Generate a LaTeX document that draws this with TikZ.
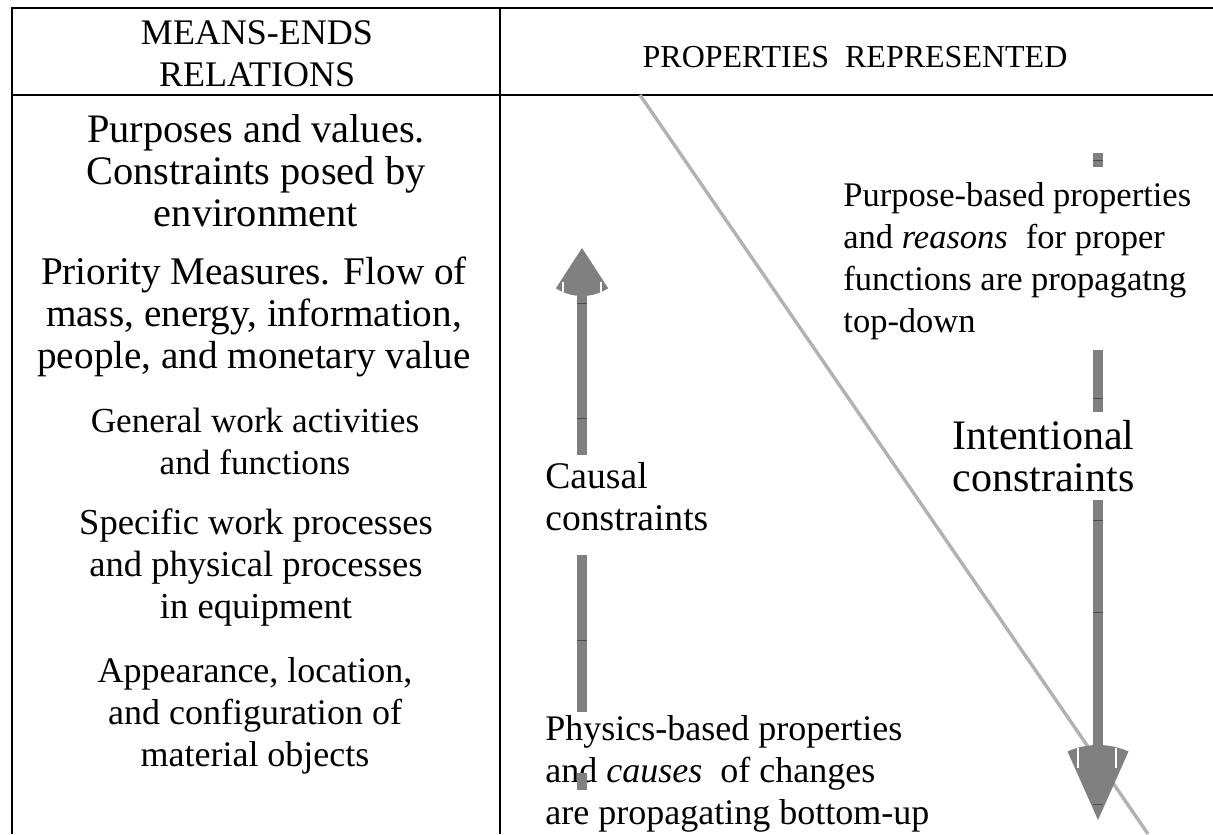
\documentclass[tikz,border=0pt]{standalone}
\usepackage{fontspec}
\setmainfont{Liberation Serif}
\begin{document}
\begin{tikzpicture}[x=0.5pt,y=-0.5pt]
            \definecolor{arrow_color}{RGB}{128,128,128}
            \definecolor{slash_color}{RGB}{178,178,178}
            \tikzstyle{every node} = [inner sep=0pt, font=\fontsize{18}{21}\selectfont]
            \tikzstyle{col} = [align=center]
            \tikzstyle{txt} = [align=left, anchor=west]
            \tikzstyle{rule} = [line width=1.3pt, black]
            \tikzstyle{tick} = [line width=0.4pt, black!70]
            \tikzstyle{gap} = [line width=0.8pt, white]
            \useasboundingbox (0,0) rectangle (1213,834);
            % table lines
            \draw[rule] (12,834) -- (12,8) -- (1213,8);
            \draw[rule] (12,95) -- (1213,95);
            \draw[rule] (500,8) -- (500,834);
            % headers
            \node[col] (head_me) at (257,54) {MEANS-ENDS\\RELATIONS};
            \node[font=\fontsize{16}{19}\selectfont] (head_pr) at (855,57) {PROPERTIES\ \ REPRESENTED};
            % levels
            \node[col, font=\fontsize{20.2}{21}\selectfont] (lvl1) at (256,171) {Purposes and values.\\Constraints posed by\\environment};
            \node[col, font=\fontsize{19.6}{21}\selectfont] (lvl2) at (254,317) {Priority Measures. Flow of\\mass, energy, information,\\people, and monetary value};
            \node[col, font=\fontsize{17.6}{21}\selectfont] (lvl3) at (255,441) {General work activities\\and functions};
            \node[col, font=\fontsize{18.3}{21}\selectfont] (lvl4) at (256,568) {Specific work processes\\and physical processes\\in equipment};
            \node[col] (lvl5) at (255,716) {Appearance, location,\\and configuration of\\material objects};
            % properties
            \node[txt, font=\fontsize{17.25}{21}\selectfont] (purpose) at (843,261) {Purpose-based properties\\and \textit{reasons}\hspace{9pt}for proper\\functions are propagatng\\top-down};
            \node[txt, font=\fontsize{21}{21}\selectfont] (intent) at (952,456) {Intentional\\constraints};
            \node[txt, font=\fontsize{18.8}{21}\selectfont] (causal) at (545,497) {Causal\\constraints};
            \node[txt] (physics) at (545,774) {Physics-based properties\\and \textit{causes}\ \ of changes\\are propagating bottom-up};
            % diagonal
            \draw[slash_color, line width=1.7pt] (640,95) -- (1148,834);
            % bottom-up arrow
            \coordinate (up_tip) at (582,248);
            \fill[arrow_color] (up_tip) -- ++(57:48) arc[start angle=57, end angle=123, radius=48] -- cycle;
            \fill[arrow_color] (577,292) rectangle (587,455);
            \fill[arrow_color] (577,555) rectangle (587,712);
            \fill[arrow_color] (577,773) rectangle (587,790);
            \draw[gap] (563,282) -- (563,292);
            \draw[gap] (601,282) -- (601,292);
            \foreach \y in {303,418,640} \draw[tick] (577,\y) -- (587,\y);
            % top-down arrow
            \coordinate (down_tip) at (1098,820);
            \fill[arrow_color] (down_tip) -- ++(-66:75) arc[start angle=-66, end angle=-114, radius=75] -- cycle;
            \fill[arrow_color] (1093,153) rectangle (1103,167);
            \fill[arrow_color] (1093,350) rectangle (1103,412);
            \fill[arrow_color] (1093,500) rectangle (1103,746);
            \draw[gap] (1078,748) -- (1078,768);
            \draw[gap] (1116,748) -- (1116,768);
            \foreach \y in {160,398,520,612,804} \draw[tick] (1093,\y) -- (1103,\y);
\end{tikzpicture}
\end{document}
